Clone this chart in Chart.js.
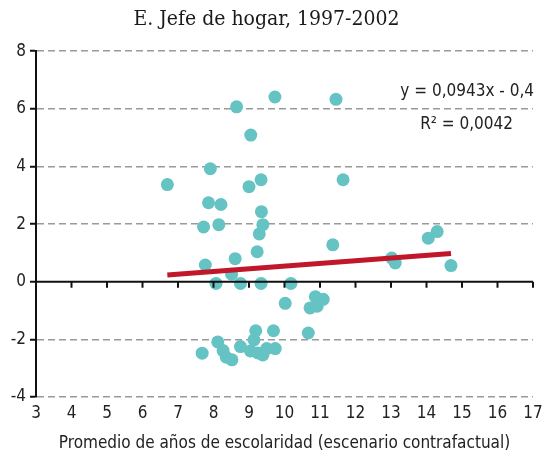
<!DOCTYPE html>
<html>
<head>
<meta charset="utf-8">
<script src="https://cdn.jsdelivr.net/npm/chart.js@4"></script>
<style>
  html, body { margin: 0; padding: 0; background: #fff; }
  #wrap { width: 544px; height: 457px; }
</style>
</head>
<body>
<div id="wrap"><canvas id="chart"></canvas></div>
<script>
// points
const schoolYears = [8.65, 9.73, 11.45, 9.05, 7.91, 6.70, 9.00, 9.34, 11.65, 7.86,
                     8.21, 9.35, 7.72, 8.15, 9.39, 9.29, 11.36, 8.61, 9.23, 7.77,
                     8.51, 14.05, 14.30, 13.02, 13.12, 14.69, 8.07, 8.76, 9.34, 10.18,
                     10.02, 10.87, 11.09, 10.72, 10.92, 9.19, 9.69, 10.67, 9.14, 8.12,
                     7.68, 8.27, 8.36, 8.52, 8.76, 9.04, 9.25, 9.39, 9.50, 9.74];
const change      = [6.07, 6.41, 6.33, 5.09, 3.92, 3.37, 3.30, 3.54, 3.54, 2.74,
                     2.68, 2.43, 1.90, 1.98, 1.98, 1.66, 1.28, 0.80, 1.04, 0.58,
                     0.26, 1.51, 1.74, 0.82, 0.65, 0.56, -0.06, -0.06, -0.06, -0.06,
                     -0.75, -0.52, -0.61, -0.91, -0.85, -1.70, -1.70, -1.78, -2.02, -2.09,
                     -2.48, -2.39, -2.62, -2.71, -2.25, -2.40, -2.47, -2.54, -2.32, -2.32];

// trend line ends
const trendX = [6.70, 14.69];
const trendY = [0.23, 0.98];

const eqLabel = 'y = 0,0943x - 0,4';
const r2Label = 'R² = 0,0042';
const titleText = 'E. Jefe de hogar, 1997-2002';
const xTitle = 'Promedio de años de escolaridad (escenario contrafactual)';

const sansFamily = "'Liberation Sans Narrow', 'DejaVu Sans Condensed', 'Roboto', sans-serif";

// zero axis line with its tick marks, plus the equation text
const zeroAxis = {
    id: 'zeroAxis',
    afterDatasetsDraw(chart) {
        const {ctx, chartArea, scales: {x, y}} = chart;
        const y0 = y.getPixelForValue(0);
        ctx.save();
        ctx.strokeStyle = '#111';
        ctx.lineWidth = 2;
        ctx.beginPath();
        ctx.moveTo(chartArea.left, y0);
        ctx.lineTo(chartArea.right, y0);
        ctx.stroke();
        x.ticks.forEach(t => {
            const px = x.getPixelForValue(t.value);
            ctx.beginPath();
            ctx.moveTo(px, y0);
            ctx.lineTo(px, y0 + 6);
            ctx.stroke();
        });
        ctx.restore();
    },
    afterDraw(chart) {
        const {ctx, chartArea} = chart;
        ctx.save();
        ctx.fillStyle = '#222';
        ctx.font = '17px ' + sansFamily;
        ctx.textAlign = 'right';
        ctx.textBaseline = 'middle';
        ctx.fillText(eqLabel, chartArea.right + 1, 92);
        ctx.fillText(r2Label, chartArea.right - 20, 125);
        ctx.restore();
    }
};

new Chart(document.getElementById('chart'), {
    type: 'scatter',
    data: {
        datasets: [
            {
                type: 'line',
                data: trendX.map((v, i) => ({x: v, y: trendY[i]})),
                borderColor: '#C0172B',
                borderWidth: 5,
                pointRadius: 0,
                fill: false
            },
            {
                data: schoolYears.map((v, i) => ({x: v, y: change[i]})),
                backgroundColor: '#66C3C3',
                borderWidth: 0,
                pointRadius: 6.5,
                pointHoverRadius: 6.5
            }
        ]
    },
    options: {
        responsive: true,
        maintainAspectRatio: false,
        animation: false,
        layout: { padding: { left: 0, right: 11, top: 0, bottom: 0 } },
        plugins: {
            legend: { display: false },
            tooltip: { enabled: false },
            title: {
                display: true,
                text: titleText,
                color: '#1a1a1a',
                font: { family: "'DejaVu Serif Condensed', 'DejaVu Serif', serif", size: 21, weight: 'normal' },
                padding: { top: 7, bottom: 19 }
            }
        },
        scales: {
            x: {
                type: 'linear',
                min: 3, max: 17,
                afterFit: s => { s.height = 60; s.paddingLeft = 0; s.paddingRight = 0; },
                ticks: { stepSize: 1, color: '#222', padding: 6,
                         font: { family: sansFamily, size: 17 } },
                grid: { display: false, drawTicks: false },
                border: { display: false },
                title: {
                    display: true,
                    text: xTitle,
                    color: '#222',
                    font: { family: sansFamily, size: 17 },
                    padding: { top: 0, bottom: 3 }
                }
            },
            y: {
                min: -4, max: 8,
                afterFit: s => { s.width = 36; },
                ticks: { stepSize: 2, color: '#222', padding: 4,
                         font: { family: sansFamily, size: 17 } },
                grid: {
                    color: ctx => ctx.tick && ctx.tick.value === 0 ? 'rgba(0,0,0,0)' : '#9a9a9a',
                    lineWidth: 1.5,
                    tickColor: '#111',
                    tickLength: 6,
                    tickWidth: 2,
                    tickBorderDash: []
                },
                border: { display: true, color: '#111', width: 2, dash: [7, 4] }
            }
        }
    },
    plugins: [zeroAxis]
});
</script>
</body>
</html>
